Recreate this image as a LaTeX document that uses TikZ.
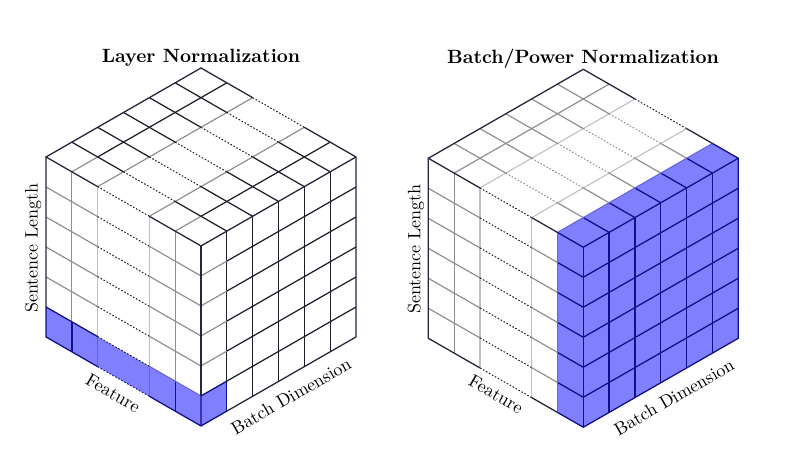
\documentclass[tikz,border=0pt]{standalone}
\usepackage{tikz}
\definecolor{edgedark}{HTML}{26263C}
\definecolor{griddark}{HTML}{1E1E28}
\definecolor{gridgray}{HTML}{8F8F8F}
\definecolor{gridlight}{HTML}{C0C0C0}
\definecolor{slicefill}{HTML}{8080FF}
\definecolor{sliceline}{HTML}{101088}
\definecolor{slicefaint}{HTML}{6666DC}
\tikzset{edgeline/.style={draw=edgedark,line width=0.65pt}}
\tikzset{darkline/.style={draw=griddark,line width=0.62pt}}
\tikzset{grayline/.style={draw=gridgray,line width=0.6pt}}
\tikzset{lightline/.style={draw=gridlight,line width=0.55pt}}
\tikzset{dotline/.style={draw=griddark,line width=0.5pt,dash pattern=on 0.8pt off 0.9pt}}
\tikzset{dotgray/.style={dotline,draw=gridgray}}
\tikzset{sliceedge/.style={draw=sliceline,line width=0.65pt}}
\tikzset{slicesoft/.style={draw=slicefaint,line width=0.55pt}}
\tikzset{cube/.style={x={(12.915pt,-7.415pt)},y={(-12.915pt,-7.415pt)},z={(0pt,-15pt)}}}
\tikzset{title/.style={font=\bfseries,scale=0.96}}
\tikzset{axis/.style={font=\normalsize,scale=0.9}}
\begin{document}
\begin{tikzpicture}
\useasboundingbox (0pt,0pt) rectangle (399.5pt,-237pt);

\node [title] (layer-title) at (100.5pt,-28.8pt) {Layer Normalization};
\node [title] (batch-title) at (291.5pt,-29.3pt) {Batch/Power Normalization};

\node [axis,rotate=90] (layer-length) at (16.6pt,-124pt) {Sentence Length};
\node [axis,rotate=-30] (layer-feature) at (56.5pt,-196.6pt) {Feature};
\node [axis,rotate=30] (layer-batch) at (145.5pt,-198pt) {Batch Dimension};
\node [axis,rotate=90] (batch-length) at (208pt,-124.5pt) {Sentence Length};
\node [axis,rotate=-30] (batch-feature) at (248pt,-197.1pt) {Feature};
\node [axis,rotate=30] (batch-batch) at (337pt,-198.5pt) {Batch Dimension};

% Layer cube
\begin{scope}[shift={(100.5pt,-34pt)},cube]
\fill [slicefill] (0,6,5) -- (6,6,5) -- (6,5,5) -- (6,5,6) -- (6,6,6) -- (0,6,6) -- cycle;

% left face
\foreach \f/\s in {1/grayline,2/lightline,4/lightline,5/grayline}
\draw [\s] (\f,6,0) -- (\f,6,5);
\foreach \z in {1,...,4} {
\draw [grayline] (0,6,\z) -- (2,6,\z);
\draw [dotline] (2,6,\z) -- (4,6,\z);
\draw [grayline] (4,6,\z) -- (6,6,\z);
}
\foreach \f/\s in {1/sliceedge,2/slicesoft,4/slicesoft,5/sliceedge}
\draw [\s] (\f,6,5) -- (\f,6,6);
\draw [sliceedge] (0,6,5) -- (2,6,5);
\draw [dotline] (2,6,5) -- (4,6,5);
\draw [slicesoft] (4,6,5) -- (6,6,5);

% right face
\foreach \b in {1,...,5}
\draw [darkline] (6,\b,0) -- (6,\b,6);
\foreach \z in {1,...,5} {
\draw [darkline] (6,0,\z) -- (6,5,\z);
}
\foreach \z in {1,...,4}
\draw [grayline] (6,5,\z) -- (6,6,\z);
\draw [sliceedge] (6,5,5) -- (6,6,5) -- (6,6,6);
\draw [sliceedge] (6,5,5) -- (6,5,6);

% top face
\foreach \f in {1,5}
\draw [darkline] (\f,0,0) -- (\f,5,0);
\foreach \f in {1,5}
\draw [grayline] (\f,5,0) -- (\f,6,0);
\foreach \f in {2,4}
\draw [grayline] (\f,0,0) -- (\f,6,0);
\foreach \b in {1,...,5} {
\draw [darkline] (0,\b,0) -- (2,\b,0);
\draw [dotline] (2,\b,0) -- (4,\b,0);
\draw [darkline] (4,\b,0) -- (6,\b,0);
}

% outline
\draw [edgeline] (0,6,0) -- (0,0,0) -- (2,0,0);
\draw [dotline] (2,0,0) -- (4,0,0);
\draw [edgeline] (4,0,0) -- (6,0,0) -- (6,0,6) -- (6,5,6);
\draw [edgeline] (0,6,5) -- (0,6,0) -- (2,6,0);
\draw [dotline] (2,6,0) -- (4,6,0);
\draw [edgeline] (4,6,0) -- (6,6,0) -- (6,0,0);
\draw [edgeline] (6,6,0) -- (6,6,5);
\draw [sliceedge] (0,6,5) -- (0,6,6) -- (2,6,6) (4,6,6) -- (6,6,6) -- (6,5,6);
\draw [dotline,draw=sliceline] (2,6,6) -- (4,6,6);
\end{scope}

% Batch cube
\begin{scope}[shift={(291.65pt,-34.65pt)},cube]
\fill [slicefill] (5,0,0) -- (6,0,0) -- (6,0,6) -- (6,6,6) -- (5,6,6) -- (5,6,0) -- cycle;

% left face
\foreach \f/\s in {1/grayline,2/lightline,4/lightline}
\draw [\s] (\f,6,0) -- (\f,6,6);
\foreach \z in {1,...,5} {
\draw [grayline] (0,6,\z) -- (2,6,\z);
\draw [dotline] (2,6,\z) -- (4,6,\z);
\draw [grayline] (4,6,\z) -- (5,6,\z);
\draw [sliceedge] (5,6,\z) -- (6,6,\z);
}
\draw [slicesoft] (5,6,0) -- (5,6,6);

% right face
\foreach \b in {1,...,5}
\draw [sliceedge] (6,\b,0) -- (6,\b,6);
\foreach \z in {1,...,5}
\draw [sliceedge] (6,0,\z) -- (6,6,\z);

% top face
\foreach \f/\s in {1/grayline,2/lightline,4/lightline}
\draw [\s] (\f,0,0) -- (\f,6,0);
\foreach \b in {1,...,5} {
\draw [grayline] (0,\b,0) -- (2,\b,0);
\draw [dotgray] (2,\b,0) -- (4,\b,0);
\draw [grayline] (4,\b,0) -- (5,\b,0);
\draw [sliceedge] (5,\b,0) -- (6,\b,0);
}
\draw [slicesoft] (5,0,0) -- (5,6,0);

% outline
\draw [edgeline] (0,6,0) -- (0,0,0) -- (2,0,0);
\draw [dotline] (2,0,0) -- (4,0,0);
\draw [edgeline] (4,0,0) -- (5,0,0);
\draw [edgeline] (5,6,6) -- (4,6,6);
\draw [dotline] (4,6,6) -- (2,6,6);
\draw [edgeline] (2,6,6) -- (0,6,6) -- (0,6,0) -- (2,6,0);
\draw [dotline] (2,6,0) -- (4,6,0);
\draw [edgeline] (4,6,0) -- (5,6,0);
\draw [sliceedge] (5,0,0) -- (6,0,0) -- (6,0,6) -- (6,6,6) -- (5,6,6);
\draw [sliceedge] (5,6,0) -- (6,6,0) -- (6,0,0);
\draw [sliceedge] (6,6,0) -- (6,6,6);
\end{scope}
\end{tikzpicture}
\end{document}
